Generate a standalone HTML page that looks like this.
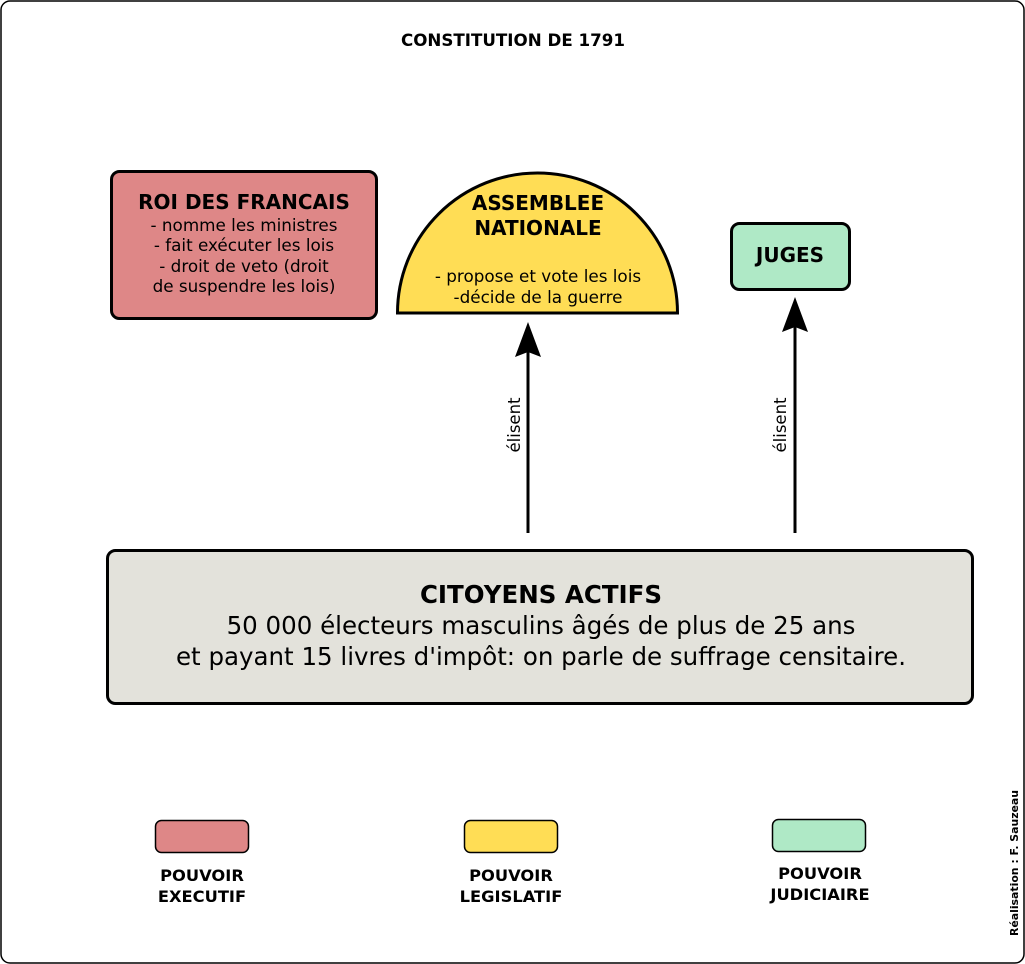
<!DOCTYPE html>
<html><head><meta charset="utf-8"><style>body{margin:0;background:#fff}svg{display:block}text{font-family:"DejaVu Sans","Liberation Sans",sans-serif}</style></head><body>
<svg width="1025" height="964" viewBox="0 0 1025 964" xmlns="http://www.w3.org/2000/svg">
<rect x="1" y="1" width="1023" height="962" rx="9" fill="#fff" stroke="#000" stroke-width="1.5"/>
<text x="513" y="46" text-anchor="middle" font-size="16.7" font-weight="bold">CONSTITUTION DE 1791</text>
<rect x="111.5" y="171.5" width="265" height="147" rx="8" fill="#de8787" stroke="#000" stroke-width="3"/>
<text x="244" y="209" text-anchor="middle" font-size="20" font-weight="bold">ROI DES FRANCAIS</text>
<g font-size="16.8" text-anchor="middle"><text x="244" y="231">- nomme les ministres</text><text x="244" y="251">- fait exécuter les lois</text><text x="244" y="272">- droit de veto (droit</text><text x="244" y="292">de suspendre les lois)</text></g>
<path d="M397.5 313 A140 140 0 0 1 677.5 313 Z" fill="#ffdd55" stroke="#000" stroke-width="3"/>
<text x="538" y="210" text-anchor="middle" font-size="20" font-weight="bold">ASSEMBLEE</text>
<text x="538" y="235" text-anchor="middle" font-size="20" font-weight="bold">NATIONALE</text>
<text x="538" y="282" text-anchor="middle" font-size="16.8">- propose et vote les lois</text>
<text x="538" y="303" text-anchor="middle" font-size="16.8">-décide de la guerre</text>
<rect x="731.5" y="223.5" width="118" height="66" rx="8" fill="#afe9c6" stroke="#000" stroke-width="3"/>
<text x="790" y="262" text-anchor="middle" font-size="20" font-weight="bold">JUGES</text>
<line x1="528" y1="533" x2="528" y2="350" stroke="#000" stroke-width="3"/>
<path d="M528 322 L541 357 L528 352 L515 357 Z" fill="#000"/>
<line x1="795" y1="533" x2="795" y2="325" stroke="#000" stroke-width="3"/>
<path d="M795 297 L808 332 L795 327 L782 332 Z" fill="#000"/>
<text transform="translate(520,425) rotate(-90)" text-anchor="middle" font-size="16.5">élisent</text>
<text transform="translate(786,425) rotate(-90)" text-anchor="middle" font-size="16.5">élisent</text>
<rect x="107.5" y="550.5" width="865" height="153" rx="8" fill="#e3e2db" stroke="#000" stroke-width="3"/>
<text x="541" y="603" text-anchor="middle" font-size="24.5" font-weight="bold">CITOYENS ACTIFS</text>
<text x="541" y="634" text-anchor="middle" font-size="24.5">50 000 électeurs masculins âgés de plus de 25 ans</text>
<text x="541" y="665" text-anchor="middle" font-size="24.5">et payant 15 livres d'impôt: on parle de suffrage censitaire.</text>
<rect x="155.5" y="820.5" width="93" height="32" rx="6" fill="#de8787" stroke="#000" stroke-width="1.5"/>
<rect x="464.5" y="820.5" width="93" height="32" rx="6" fill="#ffdd55" stroke="#000" stroke-width="1.5"/>
<rect x="772.5" y="819.5" width="93" height="32" rx="6" fill="#afe9c6" stroke="#000" stroke-width="1.5"/>
<g font-size="16.3" font-weight="bold" text-anchor="middle">
<text x="202" y="881">POUVOIR</text><text x="202" y="902">EXECUTIF</text>
<text x="511" y="881">POUVOIR</text><text x="511" y="902">LEGISLATIF</text>
<text x="820" y="879">POUVOIR</text><text x="820" y="900">JUDICIAIRE</text>
</g>
<text transform="translate(1018,863) rotate(-90)" text-anchor="middle" font-size="10.9" font-weight="bold">Réalisation : F. Sauzeau</text>
</svg>
</body></html>
